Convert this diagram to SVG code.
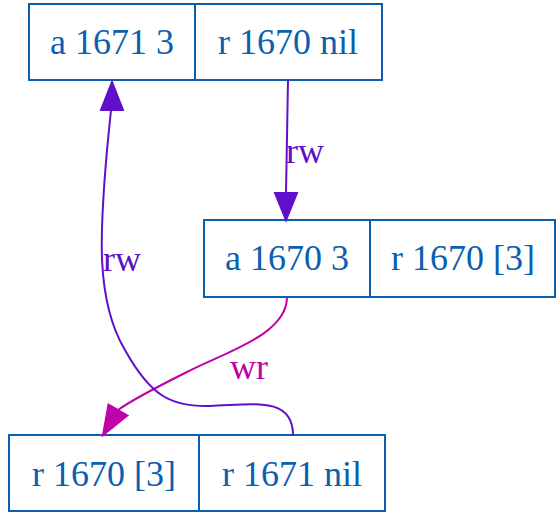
<svg xmlns="http://www.w3.org/2000/svg" width="556" height="514" viewBox="0 0 556 514">
<style>
.box{fill:#fff;stroke:#0a5fb0;stroke-width:2}
.div{stroke:#0a5fb0;stroke-width:2}
.t{font-family:"Liberation Serif","Times New Roman",serif;font-size:36px;fill:#0a5fb0;text-anchor:middle}
.rw{fill:none;stroke:#6010c8;stroke-width:2}
.wr{fill:none;stroke:#c000a8;stroke-width:2}
.lrw{font-family:"Liberation Serif","Times New Roman",serif;font-size:36px;fill:#6010c8}
.lwr{font-family:"Liberation Serif","Times New Roman",serif;font-size:36px;fill:#c000a8}
</style>
<rect width="556" height="514" fill="#fff"/>
<g id="n1671a">
<rect class="box" x="29" y="4" width="353" height="76"/>
<line class="div" x1="195" y1="4" x2="195" y2="80"/>
<text class="t" x="112" y="54">a 1671 3</text>
<text class="t" x="288" y="54">r 1670 nil</text>
</g>
<g id="n1670a">
<rect class="box" x="204" y="220" width="351" height="77"/>
<line class="div" x1="370" y1="220" x2="370" y2="297"/>
<text class="t" x="287" y="270">a 1670 3</text>
<text class="t" x="463" y="270">r 1670 [3]</text>
</g>
<g id="n1670r">
<rect class="box" x="9" y="435" width="376" height="76"/>
<line class="div" x1="199" y1="435" x2="199" y2="511"/>
<text class="t" x="104" y="486">r 1670 [3]</text>
<text class="t" x="292" y="486">r 1671 nil</text>
</g>
<g id="edges">
<path class="rw" d="M288,80 L286,193"/>
<polygon fill="#6010c8" stroke="#6010c8" stroke-width="2" points="275,193 297,193 286,220"/>
<text class="lrw" x="286" y="163">rw</text>
<path class="wr" d="M287,297 C287,335 225,352 185,373 C155,388 132,400 118,410"/>
<polygon fill="#c000a8" stroke="#c000a8" stroke-width="2" points="127.5,415.5 108.5,404.5 103,435"/>
<text class="lwr" x="230" y="379">wr</text>
<path class="rw" d="M293,435 C293,395 250,405 210,406 C170,407 150,395 125,350 C95,300 100,230 107,150 L111,110"/>
<polygon fill="#6010c8" stroke="#6010c8" stroke-width="2" points="101,110 123,110 112,82"/>
<text class="lrw" x="103" y="271">rw</text>
</g>
</svg>
